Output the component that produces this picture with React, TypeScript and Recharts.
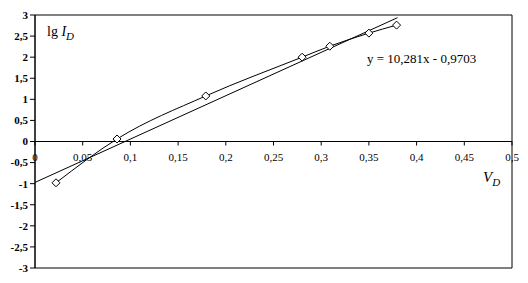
import React from "react"
import {
  ComposedChart,
  Line,
  XAxis,
  YAxis,
  ReferenceLine,
  ReferenceArea,
  ReferenceDot,
  Customized,
} from "recharts"

// measured points (V_D, lg I_D)
const vD = [0.022, 0.086, 0.179, 0.28, 0.309, 0.35, 0.379]
const lgID = [-0.98, 0.06, 1.08, 2.0, 2.26, 2.57, 2.76]

// linear trend y = 10,281x - 0,9703
const trendX = [0, 0.38]
const trendY = [-0.9703, 2.9365]

const xTicks = [0, 0.05, 0.1, 0.15, 0.2, 0.25, 0.3, 0.35, 0.4, 0.45, 0.5]
const yTicks = [-3, -2.5, -2, -1.5, -1, -0.5, 0, 0.5, 1, 1.5, 2, 2.5, 3]

const points = vD.map((x, i) => ({ x, y: lgID[i] }))
const trend = trendX.map((x, i) => ({ x, t: trendY[i] }))

const fmt = (v: number) => String(v).replace(".", ",")
const font = "Liberation Serif"

const Diamond = (props: any) => {
  const { cx, cy } = props
  if (cx == null || cy == null) return null
  const r = 4
  return (
    <path
      d={`M${cx},${cy - r}L${cx + r},${cy}L${cx},${cy + r}L${cx - r},${cy}Z`}
      fill="#fff"
      stroke="#000"
      strokeWidth={1}
    />
  )
}

const XTick = (v: number) => (props: any) => {
  const { cx, cy } = props
  return (
    <g>
      <line x1={cx} y1={cy} x2={cx} y2={cy + 4} stroke="#000" />
      <text x={cx} y={cy + 19} textAnchor="middle" style={{ fontFamily: font, fontSize: 11 }} fill="#000">
        {fmt(v)}
      </text>
    </g>
  )
}

const Annotations = () => (
  <g style={{ fontFamily: font }} fill="#000">
    <text x={47} y={36} style={{ fontSize: 14 }}>
      lg <tspan fontStyle="italic">I</tspan>
      <tspan fontStyle="italic" fontSize={11} dy={4}>D</tspan>
    </text>
    <text x={483} y={182} style={{ fontSize: 15 }}>
      <tspan fontStyle="italic">V</tspan>
      <tspan fontStyle="italic" fontSize={11} dy={4}>D</tspan>
    </text>
    <text x={367} y={63} style={{ fontSize: 13 }}>y = 10,281x - 0,9703</text>
  </g>
)

export default function App() {
  return (
    <div style={{ position: "absolute", left: 0, top: 0, background: "#fff", fontFamily: font }}>
      <ComposedChart
        width={528}
        height={283}
        margin={{ top: 15, right: 16, bottom: 15, left: 0 }}
        style={{ fontFamily: font }}
      >
        <XAxis type="number" dataKey="x" domain={[0, 0.5]} ticks={xTicks} hide />
        <YAxis
          type="number"
          domain={[-3, 3]}
          ticks={yTicks}
          width={35}
          tickSize={5}
          tickFormatter={fmt}
          axisLine={{ stroke: "#000" }}
          tickLine={{ stroke: "#000" }}
          tick={{ fill: "#000", fontSize: 11, fontWeight: "bold", style: { fontFamily: font } }}
          interval={0}
        />
        <ReferenceArea x1={0} x2={0.5} y1={-3} y2={3} fill="none" stroke="#000" strokeOpacity={1} fillOpacity={0} />
        <ReferenceLine y={0} stroke="#000" />
        {xTicks.map((v) => (
          <ReferenceDot key={v} x={v} y={0} r={0} shape={XTick(v)} />
        ))}
        <Line
          data={trend}
          dataKey="t"
          type="linear"
          stroke="#000"
          strokeWidth={1}
          dot={false}
          isAnimationActive={false}
        />
        <Line
          data={points}
          dataKey="y"
          type="monotone"
          stroke="#000"
          strokeWidth={1}
          dot={<Diamond />}
          activeDot={false}
          isAnimationActive={false}
        />
        <Customized component={Annotations} />
      </ComposedChart>
    </div>
  )
}
